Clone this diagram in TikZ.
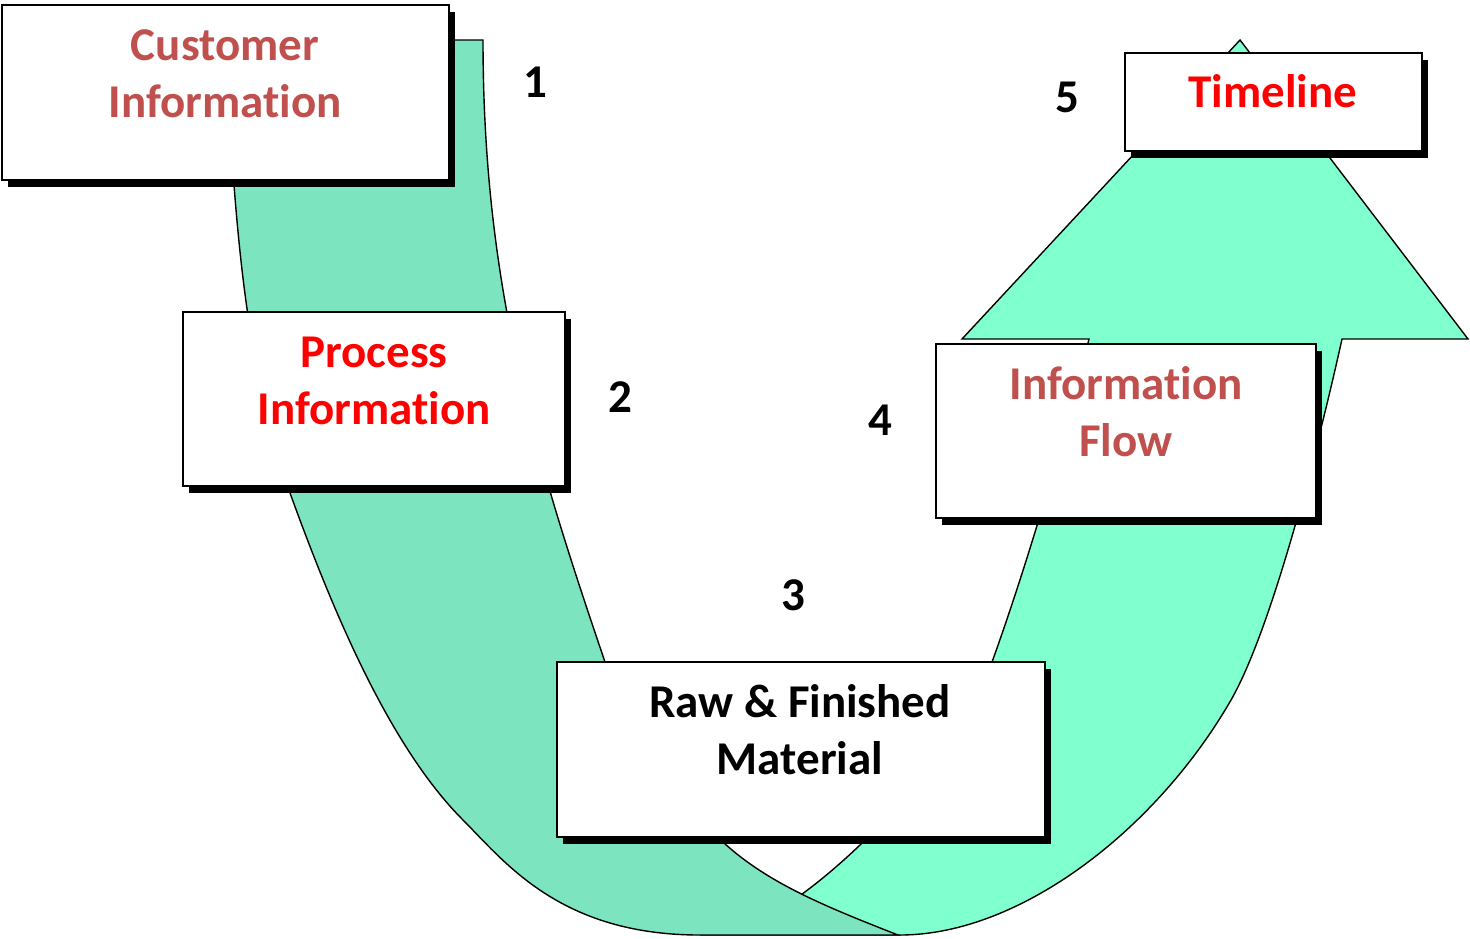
\documentclass[tikz,border=0pt]{standalone}
\usepackage{fontspec}
\setmainfont{Carlito}[RawFeature={-liga;-clig;-dlig}]
\usetikzlibrary{shadows}
\definecolor{accred}{HTML}{C0504D}
\definecolor{pure red}{HTML}{FF0000}
\definecolor{ribleft}{HTML}{7DE4C0}
\definecolor{ribright}{HTML}{80FFCF}
\newcommand{\tstr}{\rule{0pt}{17.6pt}}
\begin{document}
\begin{tikzpicture}[x=0.5pt,y=-0.5pt,
  ribL/.style={fill=ribleft,draw=black,line width=0.7pt,line join=miter},
  ribR/.style={fill=ribright,draw=black,line width=0.7pt,line join=miter},
  box/.style={draw=black,line width=0.8pt,fill=white,inner sep=0pt,
    drop shadow={shadow xshift=3.2pt,shadow yshift=-3.4pt,opacity=1,fill=black}},
  txt/.style={font=\fontsize{23.5pt}{28.5pt}\selectfont\bfseries,align=center,inner sep=0pt,anchor=north},
  num/.style={font=\fontsize{23.5pt}{28.5pt}\selectfont\bfseries,inner sep=0pt,anchor=base,text=black}]
\useasboundingbox (0,0) rectangle (1470,938);
\fill[white] (0,0) rectangle (1470,938);
% right ribbon with arrow head
\path[ribR] (700,935) -- (900,935)
  .. controls (1020,935) and (1156,830) .. (1231,700)
  .. controls (1271,630) and (1316,456) .. (1342,339)
  -- (1468,339) -- (1240,40) -- (962,339) -- (1089,339)
  .. controls (1065,436) and (1026,568) .. (992,662)
  .. controls (961,747) and (868,847) .. (798,897)
  .. controls (766,921) and (730,935) .. (700,935) -- cycle;
% left ribbon
\path[ribL] (483,40) -- (224,40)
  .. controls (235,190) and (238,343) .. (290,493)
  .. controls (331,606) and (388,745) .. (463,820)
  .. controls (505,862) and (560,935) .. (700,935)
  -- (898,935)
  .. controls (824,906) and (768,883) .. (724,843)
  .. controls (680,803) and (624,719) .. (605,662)
  .. controls (537,462) and (483,290) .. (483,40) -- cycle;
% boxes
\node[box,minimum width=223.5pt,minimum height=87.5pt] (cust) at (225.5,92.5) {};
\node[box,minimum width=191pt,minimum height=87pt] (proc) at (374,399) {};
\node[box,minimum width=244pt,minimum height=87.5pt] (raw) at (801,749.5) {};
\node[box,minimum width=190pt,minimum height=87pt] (flow) at (1126,431) {};
\node[box,minimum width=148.5pt,minimum height=49pt] (time) at (1273.5,102) {};
% texts
\node[txt,text=accred] (custt) at (225,25) {\tstr Customer\\Information};
\node[txt,text=pure red] (proct) at (374,332) {\tstr Process\\Information};
\node[txt,text=black] (rawt) at (800,682) {\tstr Raw \& Finished\\Material};
\node[txt,text=accred] (flowt) at (1126,364) {\tstr Information\\Flow};
\node[txt,text=pure red] (timet) at (1273,72) {\tstr Timeline};
% numbers
\node[num] (n1) at (535,97) {1};
\node[num] (n2) at (620,412) {2};
\node[num] (n3) at (793,610) {3};
\node[num] (n4) at (880,435) {4};
\node[num] (n5) at (1067,112) {5};
\end{tikzpicture}
\end{document}
